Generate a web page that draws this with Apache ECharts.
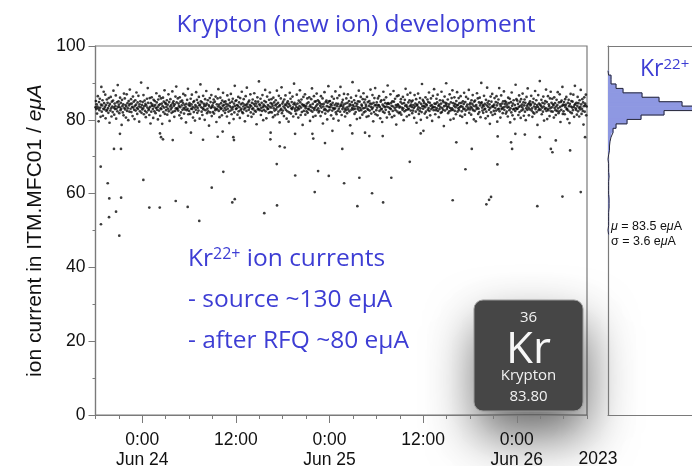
<!DOCTYPE html>
<html><head><meta charset="utf-8">
<script src="https://cdn.jsdelivr.net/npm/echarts@6/dist/echarts.min.js"></script>
<style>html,body{margin:0;padding:0;background:#fff}#c{width:692px;height:466px}</style>
</head><body><div id="c"></div>
<script>
// ---- band of samples, one every 3 minutes from Jun 23 18:00 ----
const bandA=[83.4,85.1,82.9,84.2,81.7,83.6,86.4,83.1,79.6,84.8,82.6,85.7,83.3,80.8,84.1,88.9,82.2,83.9,85.3,81.1,83.0,87.6,84.5,82.8,83.5,86.8,80.4,84.0,82.4,85.5,
82.7,84.6,83.2,81.9,85.9,83.8,79.2,84.3,82.5,86.2,83.1,80.9,84.9,83.6,82.1,85.2,87.9,83.3,81.4,84.4,82.9,83.7,86.6,80.3,83.0,84.7,82.3,89.4,83.5,85.0,
84.1,81.8,83.4,86.0,82.6,84.6,83.0,78.6,85.4,83.7,82.0,84.2,81.2,87.1,83.2,85.8,82.8,84.0,80.6,83.6,86.9,82.4,84.5,83.1,79.9,85.1,83.9,82.2,88.2,84.3,
83.0,85.6,82.1,84.4,83.5,81.0,86.3,83.3,84.9,82.7,80.2,83.8,85.3,82.5,84.1,87.4,83.2,81.6,84.7,82.9,86.5,83.6,79.5,84.2,82.3,85.0,83.4,90.1,81.9,84.0,
82.8,84.8,83.1,86.7,81.5,83.7,85.2,82.4,84.3,80.7,83.9,82.0,85.7,83.3,88.6,84.6,82.6,83.0,81.3,85.9,83.5,79.0,84.5,82.2,86.1,83.8,84.1,82.9,80.5,85.4,
83.6,82.3,85.1,84.0,81.8,83.2,87.2,84.7,82.7,83.4,80.1,85.5,83.9,82.5,86.4,84.2,81.1,83.1,85.8,82.9,84.4,78.9,83.7,86.0,82.1,84.9,83.3,88.0,81.6,84.6,
84.3,82.6,83.5,85.3,81.4,84.1,83.0,86.9,82.3,84.8,79.7,83.6,85.6,82.8,84.0,81.9,83.3,87.7,84.5,82.2,85.0,83.8,80.8,84.2,82.4,86.3,83.1,89.0,84.7,82.9];
const bandB=[83.1,85.8,82.5,84.4,83.7,81.2,86.1,83.4,84.9,82.0,80.4,83.9,85.2,82.7,84.6,87.0,83.2,81.7,84.1,82.8,86.6,83.5,79.3,84.3,82.6,85.4,83.0,88.4,81.5,84.0,
82.4,84.5,83.8,81.6,85.7,83.0,84.2,86.8,82.9,83.5,80.6,84.8,82.1,85.1,83.3,79.8,84.0,82.7,87.5,83.6,85.4,81.9,83.2,84.6,82.5,86.2,83.9,80.3,84.1,89.6,
85.0,83.4,82.2,84.7,81.3,83.1,86.5,82.8,84.3,83.7,80.0,85.6,82.6,83.9,87.8,84.4,81.8,83.0,85.3,82.3,84.0,78.4,83.6,85.9,82.0,84.8,83.2,86.7,81.0,83.5,
83.9,82.1,84.6,85.5,81.7,83.3,84.9,82.6,86.3,83.0,79.4,84.2,82.8,85.8,83.6,88.3,82.4,84.1,80.7,83.4,86.0,82.9,84.5,83.1,81.2,85.2,83.8,87.3,82.5,84.0,
84.8,83.2,81.9,85.0,82.7,84.3,83.6,80.9,86.6,83.0,84.1,82.2,85.4,79.1,83.7,84.6,82.5,87.0,83.3,81.5,84.9,82.8,85.7,83.5,80.2,84.4,82.0,89.2,83.8,85.1,
82.9,85.3,83.1,84.0,81.4,83.8,86.2,82.3,84.7,83.4,80.5,85.9,82.6,84.2,83.0,87.6,82.1,84.5,81.8,83.6,85.6,82.8,84.1,79.6,83.2,86.4,83.9,82.4,88.7,84.3,
83.5,81.1,84.8,82.7,85.2,83.3,84.0,86.9,82.0,83.7,80.8,84.6,82.9,85.5,83.1,81.6,84.3,87.2,82.5,83.8,85.0,82.2,84.4,78.8,83.6,86.1,82.8,84.9,83.0,90.4];
const bandC=[84.2,82.6,83.9,85.7,81.3,83.2,84.6,82.4,86.7,83.5,79.9,84.1,82.7,85.1,83.7,88.1,82.3,84.8,80.4,83.4,86.3,82.9,84.0,83.0,81.9,85.4,83.6,87.4,82.1,84.5,
83.3,85.6,82.0,84.3,83.8,80.7,86.0,83.1,84.7,82.5,81.2,83.9,85.3,82.8,84.2,87.9,83.4,81.5,84.6,82.2,86.5,83.7,79.3,84.0,82.6,85.8,83.0,88.8,81.8,84.4,
82.5,84.9,83.6,81.0,85.5,83.2,84.1,86.6,82.7,83.9,80.3,84.5,82.3,85.0,83.5,79.5,84.3,82.0,87.3,83.8,85.7,81.7,83.1,84.8,82.9,86.3,83.4,80.9,84.2,89.8,
84.6,83.0,82.4,84.1,81.6,83.5,86.8,82.6,84.4,83.2,80.6,85.2,82.9,83.7,88.0,84.7,81.3,83.3,85.5,82.1,84.2,78.6,83.9,86.2,82.4,84.0,83.6,86.9,81.4,83.1,
83.7,82.3,84.4,85.8,81.9,83.0,84.7,82.8,86.1,83.6,79.7,84.0,82.5,85.6,83.4,88.5,82.2,84.3,80.8,83.1,86.4,82.7,84.9,83.3,81.1,85.0,83.8,87.1,82.6,84.2,
85.3,83.1,82.0,84.9,82.4,84.5,83.8,81.0,86.4,83.3,84.2,82.1,85.8,79.0,83.6,84.3,82.7,87.5,83.0,81.7,84.8,82.6,85.2,83.7,80.1,84.6,82.3,89.1,83.5,85.0,
82.7,85.1,83.4,84.2,81.2,83.9,86.3,82.5,84.6,83.2,80.3,85.7,82.9,84.0,83.1,87.7,82.0,84.4,81.5,83.7,85.9,82.4,84.3,79.8,83.0,86.6,83.6,82.2,88.9,84.1];
const bandD=[83.8,81.3,84.7,82.9,85.4,83.5,84.1,87.0,82.2,83.0,80.9,84.4,82.6,85.8,83.3,81.8,84.6,86.9,82.8,83.6,85.1,82.3,84.2,78.5,83.9,86.0,82.7,84.8,83.2,90.2,
84.0,82.8,83.6,85.3,81.6,83.0,84.5,82.1,86.5,83.7,80.2,84.3,82.9,85.0,83.4,87.9,82.5,84.9,80.5,83.2,86.2,82.6,84.1,83.8,81.4,85.6,83.1,87.2,82.0,84.7,
83.2,85.5,82.3,84.1,83.6,80.8,86.2,83.0,84.8,82.7,81.0,83.8,85.1,82.5,84.4,88.2,83.5,81.7,84.3,82.9,86.7,83.3,79.6,84.6,82.1,85.9,83.9,88.6,81.5,84.0,
82.6,84.7,83.3,81.2,85.8,83.9,84.0,86.4,82.4,83.5,80.4,84.9,82.8,85.3,83.0,79.4,84.1,82.2,87.6,83.7,85.4,81.9,83.4,84.5,82.7,86.1,83.6,80.6,84.3,89.3,
84.5,83.4,82.1,84.3,81.5,83.1,86.9,82.9,84.6,83.8,80.7,85.0,82.4,83.6,87.8,84.9,81.1,83.2,85.7,82.6,84.0,78.7,83.5,86.4,82.2,84.2,83.9,86.6,81.8,83.3,
83.6,82.0,84.8,85.6,81.4,83.3,84.4,82.7,86.2,83.1,79.9,84.5,82.3,85.4,83.8,88.4,82.6,84.0,80.9,83.5,86.8,82.8,84.7,83.0,81.3,85.3,83.7,87.3,82.5,84.1,
84.9,83.5,81.8,85.2,82.5,84.0,83.2,80.5,86.7,83.6,84.4,82.2,85.6,79.2,83.9,84.1,82.8,87.1,83.4,81.6,84.7,82.4,85.9,83.1,80.0,84.3,82.1,89.7,83.7,85.4];
const bandE=[83.0,85.0,83.7,84.5,81.7,83.4,86.1,82.2,84.2,83.9,80.6,85.5,82.7,84.8,83.2,87.4,82.4,84.6,81.2,83.8,85.8,82.9,84.0,79.7,83.3,86.5,83.5,82.6,88.3,84.4,
83.4,81.5,84.3,82.6,85.7,83.1,84.7,86.8,82.4,83.8,80.7,84.1,82.9,85.3,83.5,81.9,84.4,87.6,82.1,83.2,85.2,82.7,84.8,78.3,83.7,86.3,82.5,84.6,83.9,89.9,
84.4,82.9,83.5,85.5,81.8,83.6,84.2,82.3,86.9,83.2,80.0,84.7,82.6,85.9,83.1,88.0,82.7,84.5,80.3,83.8,86.1,82.4,84.3,83.4,81.5,85.1,83.9,87.5,82.2,84.0,
83.1,85.9,82.6,84.5,83.4,81.1,86.4,83.7,84.6,82.3,80.8,83.5,85.0,82.9,84.3,87.3,83.0,81.4,84.8,82.5,86.2,83.6,79.1,84.1,82.8,85.7,83.3,88.1,81.9,84.2,
82.8,84.6,83.5,81.4,85.3,83.1,84.3,86.7,82.6,83.8,80.1,84.9,82.4,85.2,83.6,79.6,84.0,82.9,87.2,83.3,85.8,81.6,83.0,84.7,82.1,86.0,83.9,80.7,84.5,90.0,
84.7,83.3,82.5,84.0,81.9,83.7,86.5,82.8,84.3,83.0,80.4,85.4,82.2,83.9,88.7,84.6,81.0,83.5,85.1,82.7,84.2,78.9,83.2,86.3,82.0,84.9,83.6,87.0,81.3,83.8,
83.5,82.4,84.1,85.9,81.6,83.2,84.8,82.5,86.4,83.9,79.5,84.6,82.8,85.5,83.0,88.6,82.3,84.2,80.6,83.7,86.6,82.9,84.4,83.1,81.8,85.0,83.4,87.7,82.7,84.3];
const bandF=[85.1,83.6,81.7,84.7,82.2,84.1,83.3,80.9,86.0,83.5,84.5,82.6,85.7,79.3,83.1,84.8,82.0,87.4,83.8,81.2,84.4,82.8,85.3,83.0,80.2,84.0,82.4,89.5,83.2,85.6,
82.9,85.2,83.0,84.3,81.3,83.5,86.6,82.1,84.9,83.7,80.5,85.6,82.5,84.1,83.4,87.1,82.8,84.7,81.1,83.9,85.5,82.2,84.6,79.9,83.1,86.2,83.8,82.7,88.5,84.2,
83.3,81.2,84.5,82.8,85.0,83.9,84.2,86.5,82.5,83.1,80.8,84.7,82.0,85.7,83.6,81.7,84.3,87.8,82.9,83.4,85.3,82.1,84.0,78.6,83.5,86.7,82.6,84.4,83.0,90.5,
84.1,82.7,83.8,85.4,81.5,83.3,84.6,82.2,86.3,83.6,79.8,84.4,82.9,85.1,83.2,88.2,82.4,84.8,80.2,83.0,86.4,82.6,84.2,83.7,81.0,85.8,83.1,87.6,82.3,84.6,
83.4,85.7,82.2,84.2,83.9,80.6,86.1,83.2,84.5,82.6,81.3,83.6,85.4,82.4,84.0,87.5,83.1,81.8,84.7,82.3,86.9,83.5,79.4,84.8,82.7,85.2,83.8,88.9,81.6,84.1,
82.3,84.8,83.9,81.5,85.6,83.4,84.1,86.2,82.8,83.0,80.2,84.6,82.5,85.4,83.7,79.1,84.3,82.1,87.0,83.6,85.1,81.8,83.3,84.9,82.6,86.8,83.5,80.8,84.0,89.2,
84.3,83.1,82.7,84.6,81.4,83.8,86.2,82.3,84.5,83.3,80.9,85.3,82.8,83.5,88.1,84.2,81.6,83.0,85.6,82.4,84.7,78.7,83.7,86.1,82.2,84.4,83.9,86.8,81.2,83.6];

// ---- isolated low readings (beam drops) ----
const dropTimes=['06-23 18:40','06-23 18:42','06-23 19:34','06-23 19:46','06-23 19:44','06-23 20:22','06-23 20:38','06-23 21:03','06-23 21:16','06-23 21:17','06-23 21:08',
'06-24 00:08','06-24 00:54','06-24 02:14','06-24 02:16','06-24 02:24','06-24 02:39','06-24 03:54','06-24 04:17','06-24 05:49','06-24 06:14','06-24 07:18','06-24 07:47','06-24 08:54','06-24 09:40','06-24 10:18','06-24 10:23','06-24 11:32','06-24 11:40','06-24 11:45','06-24 11:51',
'06-24 15:38','06-24 16:25','06-24 16:27','06-24 17:14','06-24 17:16','06-24 17:37','06-24 18:15','06-24 19:35','06-24 19:36','06-24 21:48','06-24 21:55','06-24 22:06','06-24 22:32','06-24 23:25','06-24 23:54',
'06-25 00:22','06-25 01:38','06-25 01:52','06-25 02:55','06-25 03:34','06-25 03:49','06-25 04:33','06-25 05:06','06-25 05:27','06-25 06:49','06-25 06:52','06-25 07:55','06-25 10:17','06-25 11:41','06-25 12:02','06-25 15:47','06-25 16:15','06-25 17:25','06-25 18:14','06-25 20:06','06-25 20:27','06-25 20:42','06-25 21:31','06-25 21:33','06-25 23:16','06-25 23:24','06-25 23:49',
'06-26 01:02','06-26 02:38','06-26 02:57','06-26 04:22','06-26 04:34','06-26 05:00','06-26 05:51','06-26 06:50','06-26 08:12','06-26 08:45'];
const dropValues=[67.3,51.7,62.8,58.7,53.6,72.1,55.1,48.6,72.1,58.9,76.2,
63.7,56.2,56.2,76.3,75.3,74.7,74.5,58.0,56.4,76.5,52.6,74.6,61.6,75.4,76.8,65.9,57.6,75.3,74.5,58.5,
54.7,74.7,76.5,68.0,56.8,72.8,72.5,76.2,64.9,76.2,74.9,60.4,66.1,73.7,64.8,
77.0,72.1,62.8,76.3,56.6,64.3,76.5,75.6,60.1,75.6,57.6,64.3,68.6,76.3,77.0,58.2,73.9,66.6,72.1,57.1,58.3,59.1,67.9,75.5,73.9,72.1,76.2,
76.0,56.6,75.3,72.1,71.2,74.4,59.2,71.7,60.4,75.3];

// ---- histogram of the readings ----
const histLower=[92.1,90.9,89.7,88.5,87.3,86.1,84.9,83.7,82.5,81.3,80.1,78.9,77.7,76.5,75.3,74.1,72.9,71.7,70.5,69.3,68.1,66.9,65.7,64.5,63.3,62.1,60.9,59.7,58.5,57.3,56.1,54.9,53.7,52.5,51.3,50.1,48.9];
const histCounts=[0.6,3,3,8,15,34,51,74,104,56,33,19,8,5,3,2,1.5,1.5,0.6,0,0.6,0.6,0.6,1,0.6,0.6,0.6,0.6,1,1,1,0.6,0.6,0.6,0.6,0,0.6];
const histBinWidth=1.2;

// ---- axis labels ----
const xLabelTimes=['06-24 00:00','06-24 12:00','06-25 00:00','06-25 12:00','06-26 00:00'];
const yearLabel='2023';
const axisStart='06-23 18:00', axisEnd='06-26 09:00';
const sampleStepMin=3;

function T(s){const m=s.match(/(\d+)-(\d+) (\d+):(\d+)/);return new Date(2023,+m[1]-1,+m[2],+m[3],+m[4]).getTime();}
const t0=T(axisStart), t1=T(axisEnd);
const band=[].concat(bandA,bandB,bandC,bandD,bandE,bandF).map((v,i)=>[t0+i*sampleStepMin*60000,v]);
const drops=dropTimes.map((s,i)=>[T(s),dropValues[i]]);
const minorTicks=[];for(let t=t0;t<=t1;t+=3*3600000)minorTicks.push(t);
const majorTicks=xLabelTimes.map(T);
const MON=['Jan','Feb','Mar','Apr','May','Jun','Jul','Aug','Sep','Oct','Nov','Dec'];

const histData=histLower.map((lo,i)=>[lo,lo+histBinWidth,histCounts[i]]);
const outline=[];
histData.forEach((b,i)=>{ if(i===0)outline.push([0,b[1]]); outline.push([b[2],b[1]]); outline.push([b[2],b[0]]); });
outline.push([0,histData[histData.length-1][0]]);

const BLUE='#3d3dd4';
const AX='#7a7a7a';
const HFILL='#8e98e2';
const chart=echarts.init(document.getElementById('c'),null,{renderer:'canvas'});
chart.setOption({
  animation:false,
  backgroundColor:'#fff',
  grid:[
    {left:95.5,top:46,width:491.5,height:369,show:true,borderColor:AX,borderWidth:1.2,containLabel:false,outerBoundsMode:'none'},
    {left:608,top:46,width:84,height:369,show:false,containLabel:false,outerBoundsMode:'none'}
  ],
  xAxis:[
    {type:'value',gridIndex:0,min:t0,max:t1,position:'bottom',
     axisLine:{show:true,onZero:false,lineStyle:{color:AX,width:1.2}},
     axisTick:{show:true,inside:false,length:4,customValues:minorTicks,lineStyle:{color:AX}},
     splitLine:{show:false},
     axisLabel:{show:true,customValues:majorTicks,margin:15,color:'#111',fontFamily:'Liberation Sans',fontSize:17.5,lineHeight:20,
       formatter:v=>{const d=new Date(v);const h=d.getHours()+':'+String(d.getMinutes()).padStart(2,'0');return d.getHours()===0?h+'\n'+MON[d.getMonth()]+' '+d.getDate():h;}}},
    {type:'value',gridIndex:0,min:t0,max:t1,position:'bottom',
     axisLine:{show:false},axisLabel:{show:false},splitLine:{show:false},
     axisTick:{show:true,inside:false,length:8,customValues:majorTicks,lineStyle:{color:AX}}},
    {type:'value',gridIndex:1,min:0,max:84,position:'bottom',
     axisLine:{show:true,onZero:false,lineStyle:{color:AX,width:1.2}},axisTick:{show:false},axisLabel:{show:false},splitLine:{show:false}},
    {type:'value',gridIndex:1,min:0,max:84,position:'top',
     axisLine:{show:true,onZero:false,lineStyle:{color:AX,width:1.2}},axisTick:{show:false},axisLabel:{show:false},splitLine:{show:false}}
  ],
  yAxis:[
    {type:'value',gridIndex:0,min:0,max:100,interval:20,
     axisLine:{show:true,onZero:false,lineStyle:{color:AX,width:1.2}},
     axisTick:{show:true,inside:false,length:7,lineStyle:{color:AX}},
     minorTick:{show:true,splitNumber:2,length:3,lineStyle:{color:AX}},
     splitLine:{show:false},minorSplitLine:{show:false},
     axisLabel:{margin:10,color:'#111',fontFamily:'Liberation Sans',fontSize:17.5},
     name:'ion current in ITM.MFC01 / {i|eμA}',nameLocation:'middle',nameGap:46,nameRotate:90,
     nameTextStyle:{color:'#111',fontFamily:'Liberation Sans',fontSize:21,rich:{i:{fontStyle:'italic',fontFamily:'Liberation Sans',fontSize:21,color:'#111'}}}},
    {type:'value',gridIndex:1,min:0,max:100,
     axisLine:{show:true,onZero:false,lineStyle:{color:AX,width:1.2}},axisTick:{show:false},axisLabel:{show:false},splitLine:{show:false}}
  ],
  series:[
    {type:'scatter',xAxisIndex:0,yAxisIndex:0,data:band,symbol:'circle',symbolSize:2.7,itemStyle:{color:'#0a0a0a'},silent:true},
    {type:'scatter',xAxisIndex:0,yAxisIndex:0,data:drops,symbol:'circle',symbolSize:2.7,itemStyle:{color:'#0a0a0a'},silent:true},
    {type:'custom',xAxisIndex:2,yAxisIndex:1,data:histData,encode:{x:2,y:[0,1]},silent:true,clip:true,
     renderItem:(p,api)=>{const a=api.coord([0,api.value(1)]);const b=api.coord([api.value(2),api.value(0)]);
       return {type:'rect',shape:{x:a[0],y:a[1],width:b[0]-a[0],height:b[1]-a[1]},style:{fill:HFILL,stroke:HFILL,lineWidth:1}};}},
    {type:'line',xAxisIndex:2,yAxisIndex:1,data:outline,symbol:'none',lineStyle:{color:'#2b2b3a',width:1},silent:true,clip:true}
  ],
  graphic:[
    {type:'text',x:356,y:25,style:{text:'Krypton (new ion) development',fill:BLUE,fontFamily:'Open Sans',fontSize:24.5,align:'center',verticalAlign:'middle'}},
    {type:'text',x:598,y:459,style:{text:yearLabel,fill:'#111',fontFamily:'Liberation Sans',fontSize:17.5,align:'center',verticalAlign:'middle'}},
    {type:'text',x:640,y:69,style:{text:'Kr{s|22+}',fill:BLUE,fontFamily:'Open Sans',fontSize:23,align:'left',verticalAlign:'middle',
      rich:{s:{fontSize:15,fill:BLUE,fontFamily:'Open Sans',verticalAlign:'top',lineHeight:14}}}},
    {type:'text',x:611,y:227,style:{text:'{i|μ} = 83.5 e{i|μ}A',fill:'#111',fontFamily:'Liberation Sans',fontSize:12.5,align:'left',verticalAlign:'middle',
      rich:{i:{fontStyle:'italic',fontFamily:'Liberation Sans',fontSize:12.5,fill:'#111'}}}},
    {type:'text',x:611,y:242,style:{text:'σ = 3.6 e{i|μ}A',fill:'#111',fontFamily:'Liberation Sans',fontSize:12.5,align:'left',verticalAlign:'middle',
      rich:{i:{fontStyle:'italic',fontFamily:'Liberation Sans',fontSize:12.5,fill:'#111'}}}},
    {type:'text',x:188,y:259,style:{text:'Kr{s|22+} ion currents',fill:BLUE,fontFamily:'Open Sans',fontSize:24.5,align:'left',verticalAlign:'middle',
      rich:{s:{fontSize:16,fill:BLUE,fontFamily:'Open Sans',verticalAlign:'top',lineHeight:14}}}},
    {type:'text',x:188,y:300,style:{text:'- source ~130 eμA',fill:BLUE,fontFamily:'Open Sans',fontSize:24.5,align:'left',verticalAlign:'middle'}},
    {type:'text',x:188,y:341,style:{text:'- after RFQ ~80 eμA',fill:BLUE,fontFamily:'Open Sans',fontSize:24.5,align:'left',verticalAlign:'middle'}},
    {type:'group',x:474,y:300,z:100,children:[
      {type:'rect',shape:{x:0,y:0,width:109,height:111,r:9},style:{fill:'#474747',stroke:'#9a9a9a',lineWidth:1,shadowBlur:50,shadowOffsetX:3,shadowOffsetY:24,shadowColor:'rgba(0,0,0,0.6)'}},
      {type:'text',x:54.5,y:18,style:{text:'36',fill:'#f2f2f2',fontFamily:'Open Sans',fontSize:15,align:'center',verticalAlign:'middle'}},
      {type:'text',x:54.5,y:50,style:{text:'Kr',fill:'#f7f7f7',fontFamily:'Open Sans',fontSize:44,align:'center',verticalAlign:'middle'}},
      {type:'text',x:54.5,y:76,style:{text:'Krypton',fill:'#f2f2f2',fontFamily:'Open Sans',fontSize:15,align:'center',verticalAlign:'middle'}},
      {type:'text',x:54.5,y:97,style:{text:'83.80',fill:'#f2f2f2',fontFamily:'Open Sans',fontSize:15,align:'center',verticalAlign:'middle'}}
    ]}
  ]
});
</script></body></html>
